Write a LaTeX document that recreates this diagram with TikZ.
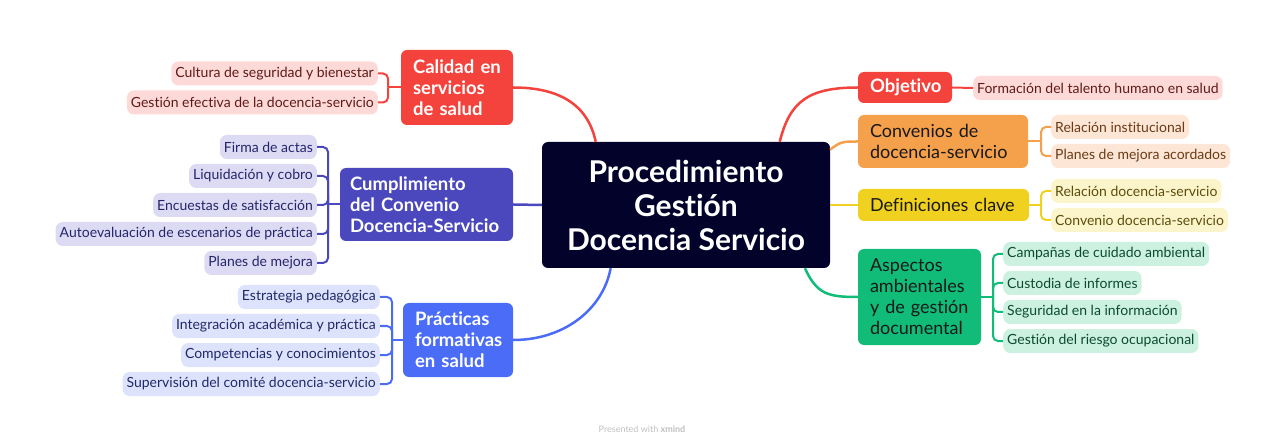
\documentclass[tikz,border=0pt]{standalone}
\usepackage{fontspec}
\setmainfont{Lato}[Ligatures={NoCommon}]

\definecolor{navy}{HTML}{03022A}
\definecolor{cRed}{HTML}{F4433C}
\definecolor{cPurple}{HTML}{4B48BD}
\definecolor{cBlue}{HTML}{4A6CF7}
\definecolor{cOrange}{HTML}{F5A04B}
\definecolor{cYellow}{HTML}{F1D11F}
\definecolor{cGreen}{HTML}{10BC77}
\definecolor{lRed}{HTML}{FDDAD7}
\definecolor{lPurple}{HTML}{DCDBF3}
\definecolor{lBlue}{HTML}{DDE3FD}
\definecolor{lOrange}{HTML}{FDE6D5}
\definecolor{lYellow}{HTML}{FCF5CC}
\definecolor{lGreen}{HTML}{CDF1E1}
\definecolor{tRed}{HTML}{5E1A18}
\definecolor{tPurple}{HTML}{26246B}
\definecolor{tBlue}{HTML}{1F2A66}
\definecolor{tOrange}{HTML}{6A3B16}
\definecolor{tYellow}{HTML}{5B4D0A}
\definecolor{tGreen}{HTML}{0A4B30}

\tikzset{
  hub/.style={rectangle, rounded corners=6pt, fill=navy, text=white, align=center,
    minimum width=288pt, minimum height=126pt, font=\fontsize{30}{34}\selectfont\bfseries},
  branch/.style={rectangle, rounded corners=6pt, inner xsep=12pt, inner ysep=0pt, align=left,
    text=black!90, font=\fontsize{18}{21}\selectfont},
  wbranch/.style={branch, text=white, font=\fontsize{18.5}{21}\selectfont\bfseries},
  leaf/.style={rectangle, rounded corners=7pt, inner xsep=4pt, inner ysep=0pt,
    minimum height=24pt, font=\fontsize{14}{15}\selectfont},
  link/.style={line width=2.5pt},
  twig/.style={line width=2pt, rounded corners=5pt},
}

\begin{document}
\begin{tikzpicture}[x=1pt, y=-1pt]
  \useasboundingbox (0,0) rectangle (1285,446);

  % centre
  \node[hub] (ctr) at (686,205) {Procedimiento\\Gestión\\Docencia Servicio};

  % left branches
  \node[wbranch, fill=cRed, text width=88pt, minimum height=75pt] (cal) at (457,87.5)
    {Calidad en\\servicios\\de salud};
  \node[wbranch, fill=cPurple, inner xsep=10pt, text width=153pt, minimum height=73pt] (cum) at (426.5,204.5)
    {Cumplimiento\\del Convenio\\\mbox{Docencia-Servicio}};
  \node[wbranch, fill=cBlue, text width=86pt, minimum height=74pt] (pra) at (458,340)
    {Prácticas\\formativas\\en salud};

  % right branches
  \node[wbranch, fill=cRed, text width=70pt, minimum height=31pt] (obj) at (905,87.5) {Objetivo};
  \node[branch, fill=cOrange, text width=146pt, minimum height=53pt] (con) at (943,141.5)
    {Convenios de\\docencia-servicio};
  \node[branch, fill=cYellow, text width=147pt, minimum height=32pt] (def) at (943.5,205)
    {Definiciones clave};
  \node[branch, fill=cGreen, text width=99pt, minimum height=96pt] (asp) at (919.5,297)
    {Aspectos\\ambientales\\y de gestión\\documental};

  \draw[link, cRed] (ctr.145) .. controls +(-8,-38) and +(45,0) .. (cal.east);
  \draw[link, cPurple] (ctr.west) -- (cum.east);
  \draw[link, cBlue] (ctr.220) .. controls +(-8,42) and +(50,0) .. (pra.east);
  \draw[link, cRed] (ctr.34) .. controls +(10,-40) and +(-50,0) .. (obj.west);
  \draw[link, cOrange] (ctr.21) .. controls +(10,-8) and +(-15,0) .. (con.west);
  \draw[link, cYellow] (ctr.east) -- (def.west);
  \draw[link, cGreen] (ctr.332) .. controls +(12,26) and +(-30,0) .. (asp.west);

  % junctions
  \coordinate (calj) at (388,87.5);
  \coordinate (cumj) at (328,204.5);
  \coordinate (praj) at (392,340);
  \coordinate (conj) at (1041,141.5);
  \coordinate (defj) at (1041,205);
  \coordinate (aspj) at (993,297);
  \draw[twig, cRed] (cal.west) -- (calj);
  \draw[twig, cPurple] (cum.west) -- (cumj);
  \draw[twig, cBlue] (pra.west) -- (praj);
  \draw[twig, cOrange] (con.east) -- (conj);
  \draw[twig, cYellow] (def.east) -- (defj);
  \draw[twig, cGreen] (asp.east) -- (aspj);

  % leaves
  \foreach[count=\i] \txt in {Cultura de seguridad y bienestar, Gestión efectiva de la docencia-servicio} {
    \node[leaf, fill=lRed, text=tRed, anchor=east] (cal\i) at (378, 44.5+29*\i) {\txt};
    \draw[twig, cRed] (calj) |- (cal\i.east);
  }
  \foreach[count=\i] \txt in {Firma de actas, Liquidación y cobro, Encuestas de satisfacción,
      Autoevaluación de escenarios de práctica, Planes de mejora} {
    \node[leaf, fill=lPurple, text=tPurple, anchor=east] (cum\i) at (317, 118+29*\i) {\txt};
    \draw[twig, cPurple] (cumj) |- (cum\i.east);
  }
  \foreach[count=\i] \txt in {Estrategia pedagógica, Integración académica y práctica,
      Competencias y conocimientos, Supervisión del comité docencia-servicio} {
    \node[leaf, fill=lBlue, text=tBlue, anchor=east] (pra\i) at (380, 268+29*\i) {\txt};
    \draw[twig, cBlue] (praj) |- (pra\i.east);
  }

  \node[leaf, fill=lRed, text=tRed, anchor=west] (obj1) at (973,88) {Formación del talento humano en salud};
  \draw[twig, cRed] (obj.east) -- (obj1.west);
  \foreach[count=\i] \txt in {Relación institucional, Planes de mejora acordados} {
    \node[leaf, fill=lOrange, text=tOrange, anchor=west] (con\i) at (1051, 98+29*\i) {\txt};
    \draw[twig, cOrange] (conj) |- (con\i.west);
  }
  \foreach[count=\i] \txt in {Relación docencia-servicio, Convenio docencia-servicio} {
    \node[leaf, fill=lYellow, text=tYellow, anchor=west] (def\i) at (1051, 162+29*\i) {\txt};
    \draw[twig, cYellow] (defj) |- (def\i.west);
  }
  \foreach[count=\i] \txt in {Campañas de cuidado ambiental, Custodia de informes,
      Seguridad en la información, Gestión del riesgo ocupacional} {
    \node[leaf, fill=lGreen, text=tGreen, anchor=west] (asp\i) at (1003, 225+29*\i) {\txt};
    \draw[twig, cGreen] (aspj) |- (asp\i.west);
  }

  \node[font=\fontsize{9}{10}\selectfont, text=black!25] (foot) at (642,429)
    {Presented with \textbf{xmind}};
\end{tikzpicture}
\end{document}
